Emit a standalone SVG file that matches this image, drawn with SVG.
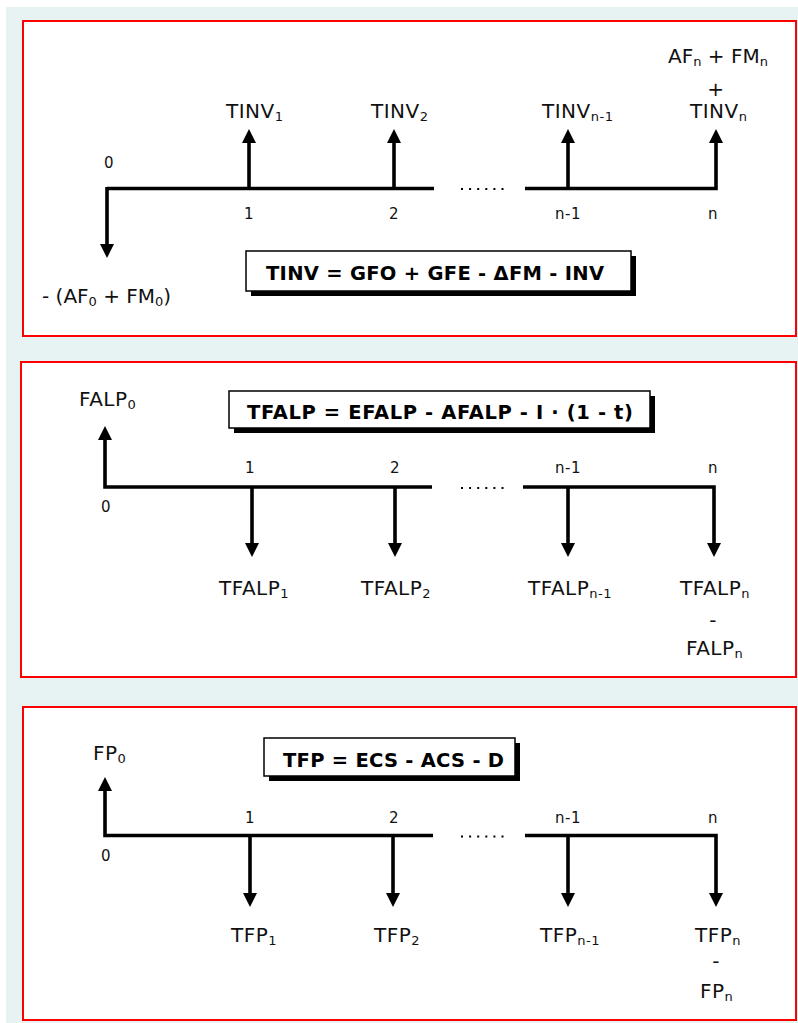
<svg xmlns="http://www.w3.org/2000/svg" width="798" height="1023" viewBox="0 0 798 1023">
<defs>
<style>
.panel{fill:#fff;stroke:#f00;stroke-width:2}
.tl{fill:none;stroke:#000;stroke-width:3.6;stroke-linejoin:miter}
.sh{fill:none;stroke:#000;stroke-width:3.6}
.dots{fill:none;stroke:#000;stroke-width:2;stroke-dasharray:2 6.1}
.lb{font-family:"DejaVu Sans","Liberation Sans",sans-serif;font-size:20px;letter-spacing:0.5px;fill:#111}
.tight{letter-spacing:0px}
.num{font-family:"DejaVu Sans","Liberation Sans",sans-serif;font-size:15px;letter-spacing:0.5px;fill:#111}
.fx{font-family:"DejaVu Sans","Liberation Sans",sans-serif;font-size:19.5px;font-weight:bold;fill:#000}
.box{fill:#fff;stroke:#000;stroke-width:1.5}
.shadow{fill:#000}
</style>
<marker id="ah" viewBox="0 -7 14 14" refX="0" refY="0" markerWidth="14" markerHeight="14" markerUnits="userSpaceOnUse" orient="auto">
<path d="M0,-7 L14,0 L0,7 Z" fill="#000"/>
</marker>
</defs>
<rect x="0" y="0" width="798" height="1023" fill="#fff"/>
<rect x="6" y="7" width="792" height="1016" fill="#E7F3F3"/>

<g id="panel1">
<rect class="panel" x="23" y="21" width="773" height="315"/>
</g>
<g id="panel2">
<rect class="panel" x="21" y="362" width="775" height="315"/>
</g>
<g id="panel3">
<rect class="panel" x="23" y="707" width="773" height="313"/>
</g>

<g id="connectors">
<!-- panel 1 -->
<path class="tl" d="M107,188.5 H434"/>
<path class="tl" d="M525,188.5 H716 V143" marker-end="url(#ah)"/>
<path class="sh" d="M107,187 V244" marker-end="url(#ah)"/>
<path class="sh" d="M249,190 V143" marker-end="url(#ah)"/>
<path class="sh" d="M394,190 V143" marker-end="url(#ah)"/>
<path class="sh" d="M568,190 V143" marker-end="url(#ah)"/>
<path class="dots" d="M461,189 H504"/>
<!-- panel 2 -->
<path class="tl" d="M432,487 H105 V440" marker-end="url(#ah)"/>
<path class="tl" d="M523,487 H714 V543" marker-end="url(#ah)"/>
<path class="sh" d="M252,486 V543" marker-end="url(#ah)"/>
<path class="sh" d="M395,486 V543" marker-end="url(#ah)"/>
<path class="sh" d="M568,486 V543" marker-end="url(#ah)"/>
<path class="dots" d="M461,488 H504"/>
<!-- panel 3 -->
<path class="tl" d="M433,835.5 H105 V791" marker-end="url(#ah)"/>
<path class="tl" d="M525,835.5 H716 V893" marker-end="url(#ah)"/>
<path class="sh" d="M250,834 V893" marker-end="url(#ah)"/>
<path class="sh" d="M393,834 V893" marker-end="url(#ah)"/>
<path class="sh" d="M568,834 V893" marker-end="url(#ah)"/>
<path class="dots" d="M461,836.5 H504"/>
</g>

<g id="formula1">
<rect class="shadow" x="251" y="256" width="385" height="40"/>
<rect class="box" x="246" y="251" width="385" height="40"/>
<text class="fx" x="266" y="280" textLength="338" lengthAdjust="spacing">TINV = GFO + GFE - ΔFM - INV</text>
</g>
<g id="formula2">
<rect class="shadow" x="234" y="396" width="421" height="37"/>
<rect class="box" x="229" y="391" width="421" height="37"/>
<text class="fx" x="247" y="419" textLength="386" lengthAdjust="spacing">TFALP = EFALP - AFALP - I · (1 - t)</text>
</g>
<g id="formula3">
<rect class="shadow" x="269" y="743" width="251" height="38"/>
<rect class="box" x="264" y="738" width="251" height="38"/>
<text class="fx" x="283" y="767" textLength="221" lengthAdjust="spacing">TFP = ECS - ACS - D</text>
</g>

<g id="labels1">
<text class="num" x="109" y="168" text-anchor="middle">0</text>
<text class="num" x="249" y="219" text-anchor="middle">1</text>
<text class="num" x="394" y="219" text-anchor="middle">2</text>
<text class="num" x="568" y="219" text-anchor="middle">n-1</text>
<text class="num" x="713" y="219" text-anchor="middle">n</text>
<text class="lb" x="226" y="118">TINV<tspan font-size="13" dy="3">1</tspan></text>
<text class="lb" x="371" y="118">TINV<tspan font-size="13" dy="3">2</tspan></text>
<text class="lb" x="542" y="118">TINV<tspan font-size="13" dy="3">n-1</tspan></text>
<text class="lb" x="690" y="118">TINV<tspan font-size="13" dy="3">n</tspan></text>
<text class="lb" x="716" y="96" text-anchor="middle">+</text>
<text class="lb tight" x="668" y="63">AF<tspan font-size="13" dy="3">n</tspan><tspan dy="-3"> + FM</tspan><tspan font-size="13" dy="3">n</tspan></text>
<text class="lb tight" x="42" y="303">- (AF<tspan font-size="13" dy="3">0</tspan><tspan dy="-3"> + FM</tspan><tspan font-size="13" dy="3">0</tspan><tspan dy="-3">)</tspan></text>
</g>

<g id="labels2">
<text class="lb" x="79" y="406">FALP<tspan font-size="13" dy="3">0</tspan></text>
<text class="num" x="106" y="512" text-anchor="middle">0</text>
<text class="num" x="250" y="473" text-anchor="middle">1</text>
<text class="num" x="395" y="473" text-anchor="middle">2</text>
<text class="num" x="568" y="473" text-anchor="middle">n-1</text>
<text class="num" x="713" y="473" text-anchor="middle">n</text>
<text class="lb" x="219" y="595">TFALP<tspan font-size="13" dy="3">1</tspan></text>
<text class="lb" x="361" y="595">TFALP<tspan font-size="13" dy="3">2</tspan></text>
<text class="lb" x="528" y="595">TFALP<tspan font-size="13" dy="3">n-1</tspan></text>
<text class="lb" x="680" y="595">TFALP<tspan font-size="13" dy="3">n</tspan></text>
<text class="lb" x="713" y="627" text-anchor="middle">-</text>
<text class="lb" x="686" y="655">FALP<tspan font-size="13" dy="3">n</tspan></text>
</g>

<g id="labels3">
<text class="lb" x="93" y="760">FP<tspan font-size="13" dy="3">0</tspan></text>
<text class="num" x="106" y="861" text-anchor="middle">0</text>
<text class="num" x="250" y="823" text-anchor="middle">1</text>
<text class="num" x="394" y="823" text-anchor="middle">2</text>
<text class="num" x="568" y="823" text-anchor="middle">n-1</text>
<text class="num" x="713" y="823" text-anchor="middle">n</text>
<text class="lb" x="231" y="942">TFP<tspan font-size="13" dy="3">1</tspan></text>
<text class="lb" x="374" y="942">TFP<tspan font-size="13" dy="3">2</tspan></text>
<text class="lb" x="540" y="942">TFP<tspan font-size="13" dy="3">n-1</tspan></text>
<text class="lb" x="695" y="942">TFP<tspan font-size="13" dy="3">n</tspan></text>
<text class="lb" x="716" y="968" text-anchor="middle">-</text>
<text class="lb" x="700" y="998">FP<tspan font-size="13" dy="3">n</tspan></text>
</g>
</svg>
